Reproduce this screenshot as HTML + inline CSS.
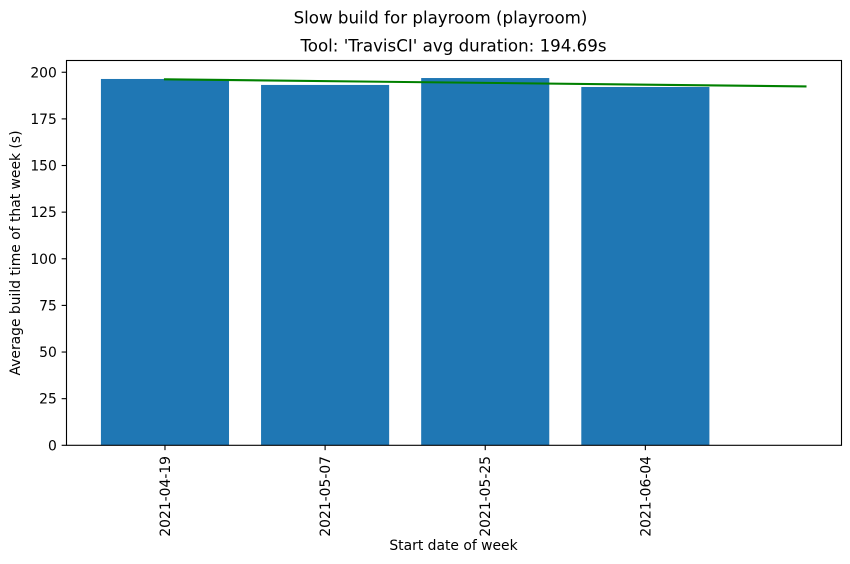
<!DOCTYPE html>
<html>
<head>
<meta charset="utf-8">
<title>Slow build for playroom (playroom)</title>
<style>
html,body{margin:0;padding:0;background:#fff;width:850px;height:564px;overflow:hidden}
svg{display:block}
text{font-family:"DejaVu Sans","Liberation Sans",sans-serif;fill:#000}
</style>
</head>
<body>
<svg id="chart" xmlns="http://www.w3.org/2000/svg" width="850" height="564" viewBox="0 0 850 564">
  <rect x="0" y="0" width="850" height="564" fill="#fff"/>
  <text x="440.5" y="23.5" font-size="16.67" text-anchor="middle">Slow build for playroom (playroom)</text>
  <text x="453.5" y="51.5" font-size="16.67" text-anchor="middle">Tool: 'TravisCI' avg duration: 194.69s</text>
  <text x="453.5" y="550" font-size="13.89" text-anchor="middle">Start date of week</text>
  <text transform="translate(20 253) rotate(-90)" font-size="13.89" text-anchor="middle">Average build time of that week (s)</text>
</svg>
<script>
var categories = ['2021-04-19', '2021-05-07', '2021-05-25', '2021-06-04'];
var durations = [196.4, 193.2, 196.9, 192.1];
var trendIndices = [0, 4];
var trendValues = [196.2, 192.4];
var yTickLabels = [0, 25, 50, 75, 100, 125, 150, 175, 200];

var svg = document.getElementById('chart');
var NS = 'http://www.w3.org/2000/svg';
var plot = { left: 66.5, right: 841.5, top: 60.5, bottom: 445.3 };
var xMin = -0.615, xMax = 4.225, yMin = 0, yMax = 206.3;
var barWidth = 0.8;

function xScale(v) {
  return plot.left + (v - xMin) / (xMax - xMin) * (plot.right - plot.left);
}
function yScale(v) {
  return plot.bottom - (v - yMin) / (yMax - yMin) * (plot.bottom - plot.top);
}
function make(tag, attrs) {
  var el = document.createElementNS(NS, tag);
  for (var k in attrs) el.setAttribute(k, attrs[k]);
  svg.appendChild(el);
  return el;
}

durations.forEach(function (d, i) {
  var x0 = xScale(i - barWidth / 2), x1 = xScale(i + barWidth / 2), y = yScale(d);
  var bar = make('rect', { x: x0, y: y, width: x1 - x0, height: plot.bottom - y, fill: '#1f77b4' });
  
  
});

var trendPoints = trendIndices.map(function (t, i) {
  return xScale(t) + ',' + yScale(trendValues[i]);
}).join(' ');
var trend = make('polyline', { points: trendPoints, fill: 'none', stroke: '#008000', 'stroke-width': 2.08, 'stroke-linecap': 'square' });



yTickLabels.forEach(function (v) {
  var y = yScale(v);
  var tick = make('line', { x1: plot.left - 4.86, x2: plot.left, y1: y, y2: y, stroke: '#000', 'stroke-width': 1.11 });
  
  
  var label = make('text', { x: plot.left - 9.7, y: y + 5.05, 'font-size': 13.89, 'text-anchor': 'end' });
  label.textContent = String(v);
  
  
});

categories.forEach(function (c, i) {
  var x = xScale(i);
  var tick = make('line', { x1: x, x2: x, y1: plot.bottom, y2: plot.bottom + 4.86, stroke: '#000', 'stroke-width': 1.11 });
  
  
  var label = make('text', { transform: 'translate(' + (x + 5) + ' ' + (plot.bottom + 10.7) + ') rotate(-90)', 'font-size': 13.89, 'text-anchor': 'end' });
  label.textContent = c;
  
  
});

var frame = make('rect', { x: plot.left, y: plot.top, width: plot.right - plot.left, height: plot.bottom - plot.top, fill: 'none', stroke: '#000', 'stroke-width': 1.11 });


</script>
</body>
</html>
